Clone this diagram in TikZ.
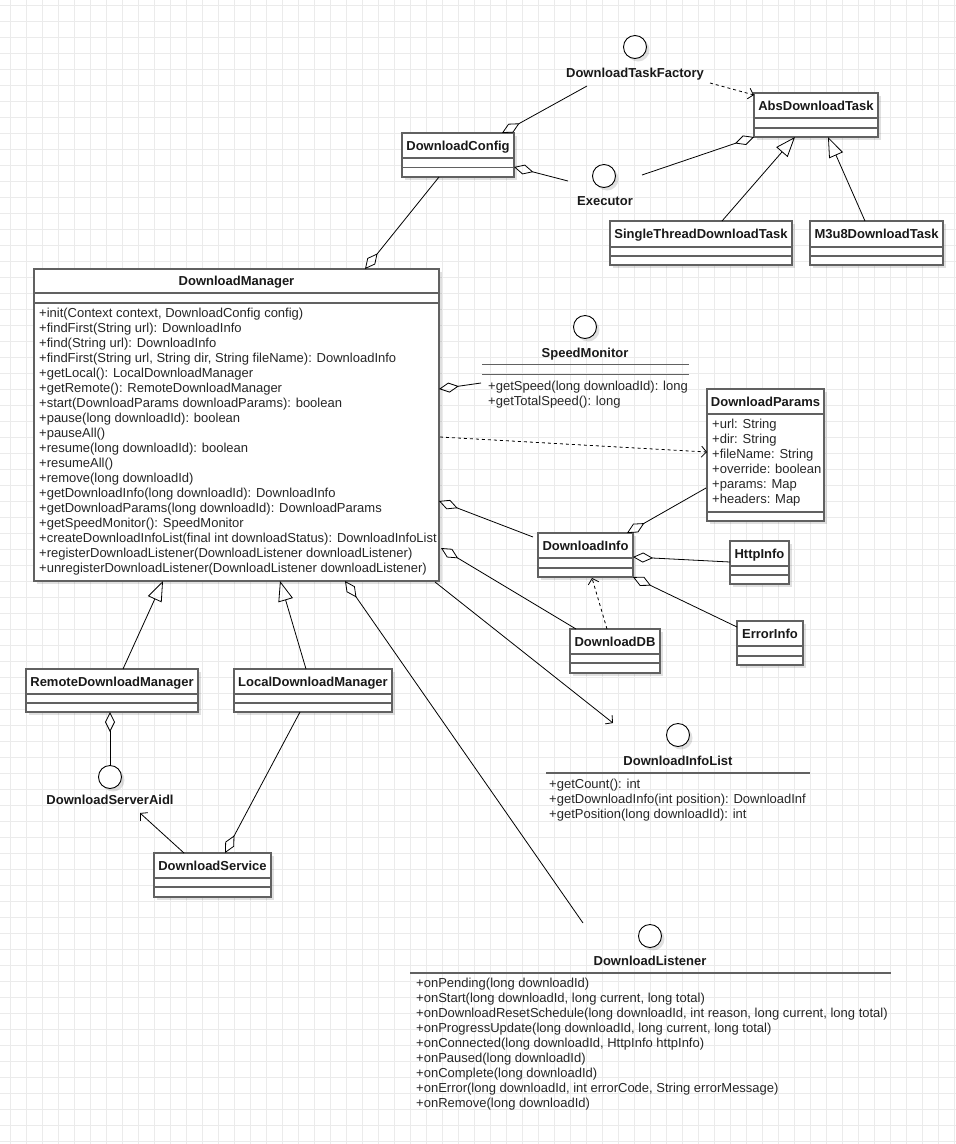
\documentclass[tikz,border=0pt]{standalone}
\usepackage{fontspec}
\setmainfont{Liberation Sans}
\usetikzlibrary{arrows.meta,calc,shadows}
\tikzset{
  gridline/.style={draw=black!8, line width=0.8pt},
  shad/.style={drop shadow={shadow xshift=3pt, shadow yshift=-3pt, fill=black, opacity=0.12}},
  cls/.style={draw=black!62, line width=1.7pt, fill=white, inner sep=0, outer sep=0, anchor=north west, shad},
  sep/.style={draw=black!62, line width=1.7pt},
  title/.style={font=\bfseries\fontsize{13}{15}\selectfont, inner sep=0, text=black!90},
  meth/.style={font=\fontsize{13}{15}\selectfont, inner sep=0, anchor=base west, text=black!85},
  iface/.style={circle, draw=black, line width=0.9pt, fill=white, minimum size=23pt, inner sep=0, outer sep=0, shad},
  conn/.style={draw=black, line width=0.8pt},
  agg/.style={conn, -{Diamond[open, length=20pt, width=10pt]}},
  gen/.style={conn, -{Triangle[open, length=20pt, width=15pt]}},
  dep/.style={conn, dash pattern=on 3pt off 3pt, -{Straight Barb[length=5pt, width=11pt]}},
  nav/.style={conn, -{Straight Barb[length=5pt, width=11pt]}}
}
\newcommand\umlcls[8]{%
  \node[cls, minimum width={(#4-#2)*1pt}, minimum height={(#5-#3)*1pt}] (#1) at (#2,#3) {};
  \draw[sep] (#2,#6) -- (#4,#6);
  \draw[sep] (#2,#7) -- (#4,#7);
  \node[title, anchor=base] (#1-t) at ({(#2+#4)/2},{(#3+#6)/2+4.7}) {#8};
}
\begin{document}
\begin{tikzpicture}[x=1pt,y=-1pt]
\useasboundingbox (0,0) rectangle (956,1144);
\fill[white] (0,0) rectangle (956,1144);
\foreach \gx in {10,26,...,954} \draw[gridline] (\gx,0) -- (\gx,1144);
\foreach \gy in {5,21,...,1141} \draw[gridline] (0,\gy) -- (956,\gy);

% ---------- classes ----------
\umlcls{dcfg}{402}{133}{514}{177}{158}{167.5}{DownloadConfig}
\umlcls{abs}{754}{93}{878}{137}{118}{128}{AbsDownloadTask}
\umlcls{stt}{610}{221}{792}{265}{247}{256}{SingleThreadDownloadTask}
\umlcls{m3u8}{810}{221}{943}{265}{247}{256}{M3u8DownloadTask}
\umlcls{dm}{34}{269}{439}{581}{293}{303}{DownloadManager}
\umlcls{dparams}{707}{389}{824}{521}{414}{512}{DownloadParams}
\umlcls{dinfo}{538}{533}{633}{577}{558}{568}{DownloadInfo}
\umlcls{http}{730}{541}{789}{584}{566}{575}{HttpInfo}
\umlcls{err}{737}{621}{803}{665}{646}{656}{ErrorInfo}
\umlcls{ddb}{570}{629}{660}{673}{654}{663}{DownloadDB}
\umlcls{remote}{26}{669}{198}{712}{694}{703}{RemoteDownloadManager}
\umlcls{local}{234}{669}{392}{712}{694}{703}{LocalDownloadManager}
\umlcls{dsvc}{154}{853}{271}{897}{878}{887}{DownloadService}

\foreach \m [count=\i] in {%
 {+init(Context context, DownloadConfig config)},
 {+findFirst(String url): DownloadInfo},
 {+find(String url): DownloadInfo},
 {+findFirst(String url, String dir, String fileName): DownloadInfo},
 {+getLocal(): LocalDownloadManager},
 {+getRemote(): RemoteDownloadManager},
 {+start(DownloadParams downloadParams): boolean},
 {+pause(long downloadId): boolean},
 {+pauseAll()},
 {+resume(long downloadId): boolean},
 {+resumeAll()},
 {+remove(long downloadId)},
 {+getDownloadInfo(long downloadId): DownloadInfo},
 {+getDownloadParams(long downloadId): DownloadParams},
 {+getSpeedMonitor(): SpeedMonitor},
 {+createDownloadInfoList(final int downloadStatus): DownloadInfoList},
 {+registerDownloadListener(DownloadListener downloadListener)},
 {+unregisterDownloadListener(DownloadListener downloadListener)}}
 \node[meth] (dm-m\i) at (39,{317.5+15*(\i-1)}) {\m};

\foreach \m [count=\i] in {%
 {+url: String},{+dir: String},{+fileName: String},{+override: boolean},{+params: Map},{+headers: Map}}
 \node[meth] (dp-a\i) at (712,{428.5+15*(\i-1)}) {\m};

% ---------- interfaces ----------
\node[iface] (dtf) at (635,47) {};
\node[title, anchor=base] (dtf-l) at (635,77.5) {DownloadTaskFactory};
\node[iface] (exec) at (604,176) {};
\node[title, anchor=base] (exec-l) at (605,205.5) {Executor};
\node[iface] (spd) at (585,327) {};
\node[title, anchor=base] (spd-l) at (585,357) {SpeedMonitor};
\draw[sep] (482,364.5) -- (689,364.5);
\draw[sep] (482,374.5) -- (689,374.5);
\node[meth] (spd-m1) at (488,390.5) {+getSpeed(long downloadId): long};
\node[meth] (spd-m2) at (488,405.5) {+getTotalSpeed(): long};

\node[iface] (dil) at (678,735) {};
\node[title, anchor=base] (dil-l) at (678,765.5) {DownloadInfoList};
\draw[sep] (546,773) -- (810,773);
\node[meth] (dil-m1) at (549,788) {+getCount(): int};
\node[meth] (dil-m2) at (549,803) {+getDownloadInfo(int position): DownloadInf};
\node[meth] (dil-m3) at (549,818) {+getPosition(long downloadId): int};

\node[iface] (dls) at (650,936) {};
\node[title, anchor=base] (dls-l) at (650,965.5) {DownloadListener};
\draw[sep] (410,973) -- (891,973);
\foreach \m [count=\i] in {%
 {+onPending(long downloadId)},
 {+onStart(long downloadId, long current, long total)},
 {+onDownloadResetSchedule(long downloadId, int reason, long current, long total)},
 {+onProgressUpdate(long downloadId, long current, long total)},
 {+onConnected(long downloadId, HttpInfo httpInfo)},
 {+onPaused(long downloadId)},
 {+onComplete(long downloadId)},
 {+onError(long downloadId, int errorCode, String errorMessage)},
 {+onRemove(long downloadId)}}
 \node[meth] (dls-m\i) at (416,{987.5+15*(\i-1)}) {\m};

\node[iface] (aidl) at (110,777) {};
\node[title, anchor=base] (aidl-l) at (110,804.5) {DownloadServerAidl};

% ---------- connectors ----------
\draw[agg] ($(dtf)+(-48,39)$) -- ($(dcfg.north west)+(100,0)$);
\draw[agg] ($(exec)+(-36,5)$) -- ($(dcfg.south east)+(0,-10)$);
\draw[agg] ($(exec)+(38,-1)$) -- (abs.south west);
\draw[dep] ($(dtf)+(75,36)$) -- ($(abs.north west)+(0,2)$);
\draw[gen] ($(stt.north west)+(112,0)$) -- ($(abs.south west)+(41,0)$);
\draw[gen] ($(m3u8.north west)+(55,0)$) -- ($(abs.south west)+(74,0)$);
\draw[agg] ($(dcfg.south west)+(37,0)$) -- ($(dm.north west)+(331,0)$);
\draw[agg] ($(spd)+(-104,56)$) -- ($(dm.north east)+(0,120)$);
\draw[dep] ($(dm.north east)+(1,168)$) -- ($(dparams.north west)+(0,63)$);
\draw[agg] ($(dinfo.north west)+(-5,4)$) -- ($(dm.north east)+(0,232)$);
\draw[agg] ($(dparams.north west)+(-1,99)$) -- ($(dinfo.north west)+(89,0)$);
\draw[agg] ($(http.north west)+(0,21)$) -- ($(dinfo.north east)+(0,24)$);
\draw[agg] ($(err.north west)+(0,6)$) -- (dinfo.south east);
\draw[dep] ($(ddb.north west)+(37,0)$) -- ($(dinfo.south west)+(54,1)$);
\draw[agg] ($(ddb.north west)+(6,0)$) -- ($(dm.north east)+(2,279)$);
\draw[nav] ($(dm.south east)+(-4,1)$) -- ($(dil)+(-65,-12)$);
\draw[agg] ($(dls)+(-67,-13)$) -- ($(dm.south west)+(311,0)$);
\draw[gen] ($(remote.north west)+(97,0)$) -- ($(dm.south west)+(129,0)$);
\draw[gen] ($(local.north west)+(72,0)$) -- ($(dm.south west)+(246,0)$);
\draw[agg] ($(aidl)+(0,-12)$) -- ($(remote.south west)+(84,0)$);
\draw[nav] ($(dsvc.north west)+(30,0)$) -- ($(aidl)+(30,36)$);
\draw[agg] ($(local.south west)+(66,0)$) -- ($(dsvc.north west)+(71,0)$);
\end{tikzpicture}
\end{document}
